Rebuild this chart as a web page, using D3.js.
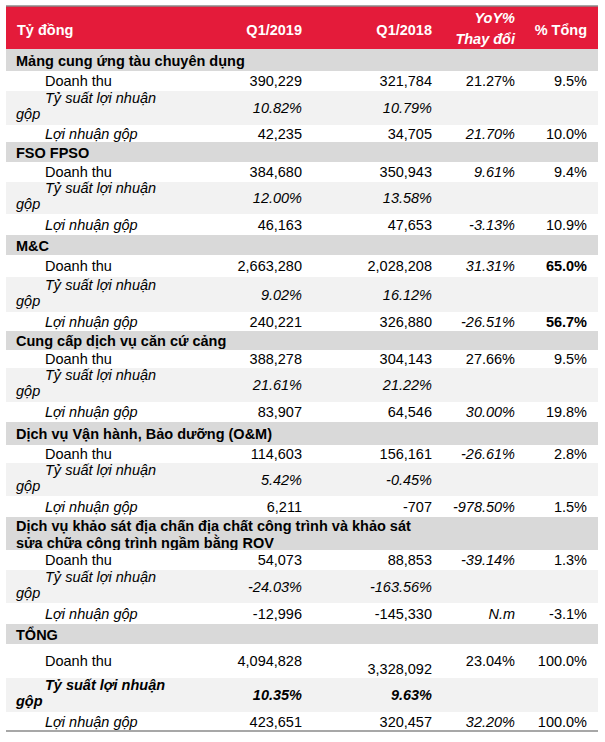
<!DOCTYPE html>
<html>
<head>
<meta charset="utf-8">
<script src="https://cdn.jsdelivr.net/npm/d3@7"></script>
<style>
  body { margin: 0; background: #fff; }
  text { font-family: "Liberation Sans", Arial, sans-serif; font-size: 14.5px; fill: #000; }
</style>
</head>
<body>
<svg id="chart" width="605" height="742"></svg>
<script>
// ty dong, Q1/2019 vs Q1/2018
const columns = ["Q1/2019", "Q1/2018", "YoY%", "% Tổng"];
const segments = [
  "Mảng cung ứng tàu chuyên dụng",
  "FSO FPSO",
  "M&C",
  "Cung cấp dịch vụ căn cứ cảng",
  "Dịch vụ Vận hành, Bảo dưỡng (O&M)",
  "Dịch vụ khảo sát địa chấn địa chất công trình và khảo sát\nsửa chữa công trình ngầm bằng ROV",
  "TỔNG"
];
const revenue2019 = [390229, 384680, 2663280, 388278, 114603, 54073, 4094828];
const revenue2018 = [321784, 350943, 2028208, 304143, 156161, 88853, 3328092];
const revenueYoY = [21.27, 9.61, 31.31, 27.66, -26.61, -39.14, 23.04];
const revenueShare = [9.5, 9.4, 65.0, 9.5, 2.8, 1.3, 100.0];
const margin2019 = [10.82, 12.00, 9.02, 21.61, 5.42, -24.03, 10.35];
const margin2018 = [10.79, 13.58, 16.12, 21.22, -0.45, -163.56, 9.63];
const profit2019 = [42235, 46163, 240221, 83907, 6211, -12996, 423651];
const profit2018 = [34705, 47653, 326880, 64546, -707, -145330, 320457];
const profitYoY = [21.70, -3.13, -26.51, 30.00, -978.50, null, 32.20]; // null = N.m
const profitShare = [10.0, 10.9, 56.7, 19.8, 1.5, -3.1, 100.0];

// row heights per segment: header, Doanh thu, Ty suat, Loi nhuan
const rowHeights = [
  [22, 20, 34, 17], [20, 20, 32, 21], [20, 22, 35, 19], [19, 18, 34, 20],
  [23, 18, 33, 21], [33, 20, 33, 21], [20, 34, 34, 19]
];

const svg = d3.select("#chart");
const left = 6, right = 598, headTop = 6, headBottom = 49;

const loc = d3.formatLocale({decimal: ".", thousands: ",", grouping: [3], currency: ["", ""], minus: "-"});
const fNum = loc.format(",");
const fPct = v => v == null ? "N.m" : loc.format(".2f")(v) + "%";
const fShare = v => loc.format(".1f")(v) + "%";

var rows = [];
segments.forEach((seg, i) => {
  const h = rowHeights[i];
  rows.push({kind: "section", seg: i, h: h[0], label: seg});
  rows.push({kind: "rev", seg: i, h: h[1], label: "Doanh thu",
    cells: [fNum(revenue2019[i]), fNum(revenue2018[i]), fPct(revenueYoY[i]), fShare(revenueShare[i])]});
  rows.push({kind: "margin", seg: i, h: h[2], label: "Tỷ suất lợi nhuận",
    cells: [fPct(margin2019[i]), fPct(margin2018[i]), "", ""]});
  rows.push({kind: "profit", seg: i, h: h[3], label: "Lợi nhuận gộp",
    cells: [fNum(profit2019[i]), fNum(profit2018[i]), fPct(profitYoY[i]), fShare(profitShare[i])]});
});

const offsets = [0, ...d3.cumsum(rows, d => d.h)];
const total = offsets[offsets.length - 1];
const y = d3.scaleLinear().domain([0, total]).range([headBottom, headBottom + total]);
const x = d3.scaleOrdinal().domain(columns).range([302, 432, 515, 587]);

const fills = {section: "#d9d9d9", rev: "#fff", margin: "#f2f2f2", profit: "#fff"};

// header
svg.append("rect").attr("x", left).attr("y", headTop).attr("width", right - left)
  .attr("height", headBottom - headTop).style("fill", "#e41b3a");
svg.append("line").attr("x1", left).attr("x2", right).attr("y1", headTop).attr("y2", headTop)
  .style("stroke", "#8a8a8a").style("stroke-width", 1.5);

const head = svg.append("g").selectAll("text");
svg.append("text").attr("x", 17).attr("y", 34.5).text("Tỷ đồng")
  .style("fill", "#fff").style("font-weight", "bold");
columns.forEach(c => {
  if (c === "YoY%") {
    svg.append("text").attr("x", x(c)).attr("y", 23).attr("text-anchor", "end").text("YoY%")
      .style("fill", "#fff").style("font-weight", "bold").style("font-style", "italic");
    svg.append("text").attr("x", x(c)).attr("y", 43.5).attr("text-anchor", "end").text("Thay đổi")
      .style("fill", "#fff").style("font-weight", "bold").style("font-style", "italic");
  } else {
    svg.append("text").attr("x", x(c)).attr("y", 34.5).attr("text-anchor", "end").text(c)
      .style("fill", "#fff").style("font-weight", "bold");
  }
});

// body rows
const g = svg.append("g").selectAll("g").data(rows).enter().append("g")
  .attr("transform", (d, i) => "translate(0," + y(offsets[i]) + ")");

g.append("rect").attr("x", left).attr("width", right - left).attr("height", d => d.h)
  .style("fill", d => fills[d.kind]);

const uprightRevYoY = [0, 3, 6];

g.each(function(d) {
  const sel = d3.select(this);
  const mid = d.h / 2;
  const total7 = d.seg === 6;
  if (d.kind === "section") {
    const lines = d.label.split("\n");
    lines.forEach((ln, k) => {
      sel.append("text").attr("x", 16).attr("y", mid + 5.5 - (lines.length - 1) * 8.5 + k * 17)
        .text(ln).style("font-weight", "bold");
    });
    return;
  }
  if (d.kind === "margin") {
    const lab = sel.append("g").style("font-style", "italic").style("font-weight", total7 ? "bold" : null);
    lab.append("text").attr("x", 45).attr("y", mid - 5).text(d.label);
    lab.append("text").attr("x", 16).attr("y", mid + 11).text("gộp");
  } else {
    sel.append("text").attr("x", 45).attr("y", mid + 5).text(d.label)
      .style("font-style", d.kind === "profit" ? "italic" : null);
  }
  d.cells.forEach((v, k) => {
    if (!v) return;
    let italic = d.kind === "margin" || (k === 2 && !(d.kind === "rev" && uprightRevYoY.includes(d.seg)));
    let bold = (d.kind === "margin" && total7) || (k === 3 && d.seg === 2);
    let dy = (d.kind === "rev" && total7 && k === 1) ? 13 : 5;
    sel.append("text").attr("x", x(columns[k])).attr("y", mid + dy).attr("text-anchor", "end").text(v)
      .style("font-style", italic ? "italic" : null).style("font-weight", bold ? "bold" : null);
  });
});

svg.append("line").attr("x1", left).attr("x2", right)
  .attr("y1", y(total)).attr("y2", y(total))
  .style("stroke", "#8a8a8a").style("stroke-width", 1.5);
</script>
</body>
</html>
